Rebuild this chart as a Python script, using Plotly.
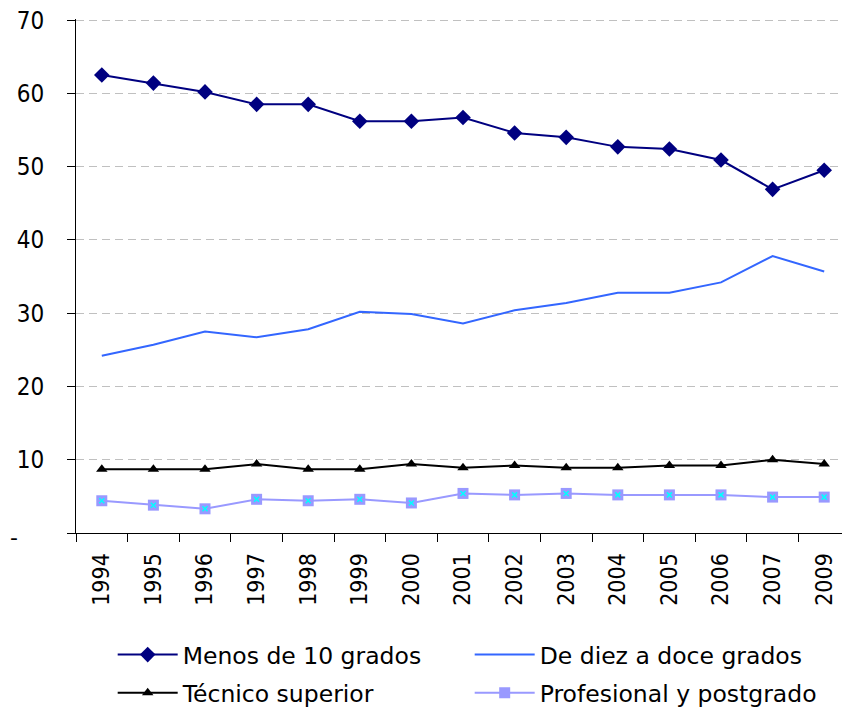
import plotly.graph_objects as go

years = ["1994", "1995", "1996", "1997", "1998", "1999", "2000", "2001",
         "2002", "2003", "2004", "2005", "2006", "2007", "2009"]
menos_10 = [62.5, 61.4, 60.2, 58.5, 58.5, 56.2, 56.2, 56.7, 54.6, 54.0, 52.7, 52.4, 50.9, 46.9, 49.5]
diez_doce = [24.2, 25.7, 27.5, 26.7, 27.8, 30.2, 29.9, 28.6, 30.4, 31.4, 32.8, 32.8, 34.2, 37.8, 35.7]
tecnico = [8.7, 8.7, 8.7, 9.4, 8.7, 8.7, 9.4, 8.9, 9.2, 8.9, 8.9, 9.2, 9.2, 10.0, 9.4]
profesional = [4.4, 3.8, 3.3, 4.6, 4.4, 4.6, 4.1, 5.4, 5.2, 5.4, 5.2, 5.2, 5.2, 4.9, 4.9]
y_ticks = [0, 10, 20, 30, 40, 50, 60, 70]
y_ticktext = ["", "10", "20", "30", "40", "50", "60", "70"]

FONT = "DejaVu Sans"
TICKFONT = "DejaVu Sans Condensed, DejaVu Sans"

fig = go.Figure()
fig.add_trace(go.Scatter(
    x=years, y=menos_10, name="Menos de 10 grados", mode="lines+markers",
    line=dict(color="#000080", width=2),
    marker=dict(symbol="diamond", size=12, color="#000080"),
    legend="legend",
))
fig.add_trace(go.Scatter(
    x=years, y=diez_doce, name="De diez a doce grados", mode="lines",
    line=dict(color="#3366FF", width=2),
    legend="legend",
))
fig.add_trace(go.Scatter(
    x=years, y=tecnico, name="Técnico superior", mode="lines+markers",
    line=dict(color="#000000", width=2),
    marker=dict(symbol="triangle-up", size=10, color="#000000"),
    legend="legend2",
))
fig.add_trace(go.Scatter(
    x=years, y=profesional, name="Profesional y postgrado", mode="lines+markers",
    line=dict(color="#9999FF", width=2),
    marker=dict(symbol="square", size=11, color="#9999FF"),
    legend="legend2",
))
fig.add_trace(go.Scatter(
    x=years, y=profesional, mode="markers", showlegend=False, hoverinfo="skip",
    marker=dict(symbol="x-thin", size=5, color="#00FFFF",
                line=dict(color="#00FFFF", width=1.5)),
))

legend_common = dict(
    orientation="h", x=0.0474, xanchor="left", yanchor="middle",
    entrywidth=282, entrywidthmode="pixels", itemwidth=60,
    font=dict(family=FONT, size=23.5, color="#000000"),
    bgcolor="rgba(0,0,0,0)",
)

fig.update_layout(
    width=842, height=700,
    margin=dict(l=68, r=0, t=11, b=175, autoexpand=False),
    paper_bgcolor="white", plot_bgcolor="white",
    font=dict(family=FONT, size=20, color="#000000"),
    showlegend=True,
    legend=dict(y=-0.237, **legend_common),
    legend2=dict(y=-0.311, **legend_common),
    annotations=[dict(
        text="-", xref="paper", yref="y", x=(0 - 68) / 774, y=0, yshift=-4,
        xanchor="left", yanchor="middle", showarrow=False,
        font=dict(family=FONT, size=22, color="#000000"),
    )],
)
fig.update_xaxes(
    type="category", range=[-0.5, 14.5],
    showline=True, linecolor="#000000", linewidth=1,
    ticks="outside", tickson="boundaries", ticklen=8, tickcolor="#000000",
    tickangle=-90, ticklabelstandoff=10,
    tickfont=dict(family=TICKFONT, size=23, color="#000000"),
    showgrid=False, zeroline=False, automargin=False,
)
fig.update_yaxes(
    range=[0, 70.15], tickvals=y_ticks, ticktext=y_ticktext,
    showline=True, linecolor="#000000", linewidth=1,
    ticks="outside", ticklen=8, tickcolor="#000000", ticklabelstandoff=18,
    ticklabeloverflow="allow",
    tickfont=dict(family=TICKFONT, size=24, color="#000000"),
    showgrid=True, gridcolor="#C0C0C0", griddash="8px,5px", gridwidth=1,
    zeroline=False, automargin=False,
)

fig.write_html("out.html")
